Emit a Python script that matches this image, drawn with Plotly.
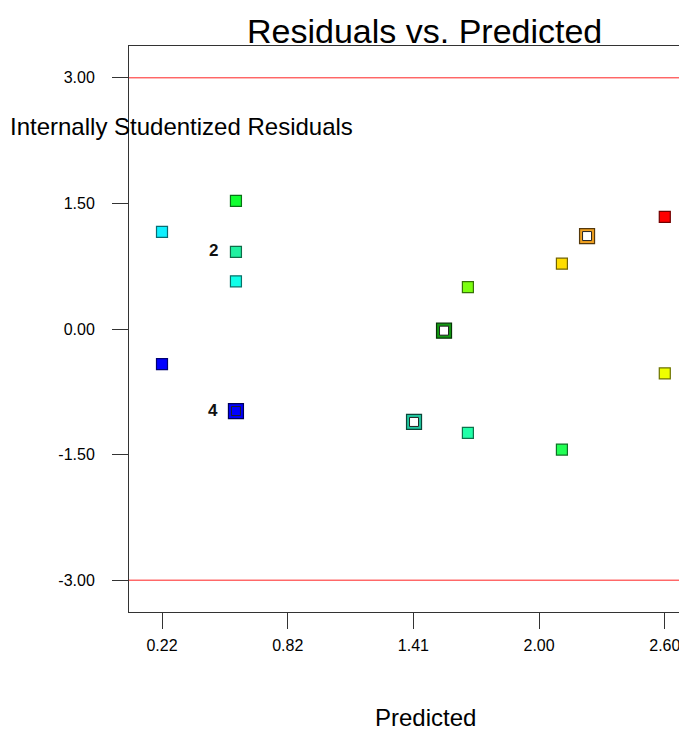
import plotly.graph_objects as go

# ---------------- data ----------------
predicted = [0.22, 0.22, 0.57, 0.57, 0.57, 0.57, 1.555, 1.413, 1.668, 1.668, 2.113, 2.113, 2.232, 2.60, 2.60]
residuals = [1.16, -0.42, 1.53, 0.92, 0.57, -0.98, -0.02, -1.11, 0.50, -1.24, 0.78, -1.44, 1.11, 1.34, -0.53]
point_kind = ["solid", "solid", "solid", "solid", "solid", "double", "hollow", "hollow",
              "solid", "solid", "solid", "solid", "hollow", "solid", "solid"]
point_labels = ["", "", "", "2", "", "4", "", "", "", "", "", "", "", "", ""]
limit_lines = [3.0, -3.0]

y_tick_vals = [-3.0, -1.5, 0.0, 1.5, 3.0]
y_tick_text = ["-3.00", "-1.50", "0.00", "1.50", "3.00"]
x_tick_vals = [0.22, 0.815, 1.41, 2.005, 2.60]
x_tick_text = ["0.22", "0.82", "1.41", "2.00", "2.60"]

# fill colours of each point (style)
point_colors = ["#10F0FF", "#0000FF", "#10FF30", "#20F0A0", "#10FFE8", "#0000FF", "#129A12", "#20C8A0",
                "#7CFF10", "#20FFA8", "#FFDD00", "#22FF55", "#F0A020", "#FF0000", "#EEFF00"]


def darker(hex_color, f=0.45):
    r, g, b = (int(hex_color[i:i + 2], 16) for i in (1, 3, 5))
    return "#%02x%02x%02x" % (int(r * f), int(g * f), int(b * f))


FONT = "Arial, Liberation Sans, sans-serif"

fig = go.Figure()

# solid points
idx = [i for i, k in enumerate(point_kind) if k == "solid"]
fig.add_scatter(
    x=[predicted[i] for i in idx], y=[residuals[i] for i in idx], mode="markers",
    marker=dict(symbol="square", size=11, color=[point_colors[i] for i in idx],
                line=dict(color=[darker(point_colors[i]) for i in idx], width=1.2)),
    showlegend=False, hoverinfo="x+y",
)

# hollow / double points: outer coloured square plus inner square
idx = [i for i, k in enumerate(point_kind) if k != "solid"]
fig.add_scatter(
    x=[predicted[i] for i in idx], y=[residuals[i] for i in idx], mode="markers",
    marker=dict(symbol="square", size=15, color=[point_colors[i] for i in idx],
                line=dict(color=[darker(point_colors[i], 0.35) for i in idx], width=1.2)),
    showlegend=False, hoverinfo="x+y",
)
fig.add_scatter(
    x=[predicted[i] for i in idx], y=[residuals[i] for i in idx], mode="markers",
    marker=dict(symbol="square", size=9,
                color=["#FFFFFF" if point_kind[i] == "hollow" else point_colors[i] for i in idx],
                line=dict(color="#222222", width=1)),
    showlegend=False, hoverinfo="skip",
)

# red limit lines
for v in limit_lines:
    fig.add_shape(type="line", xref="paper", x0=0, x1=1, yref="y", y0=v, y1=v,
                  line=dict(color="#FF2020", width=1))

# point labels
for x, y, t in zip(predicted, residuals, point_labels):
    if t:
        fig.add_annotation(x=x, y=y, text="<b>%s</b>" % t, showarrow=False,
                           xanchor="right", xshift=-16, yshift=1,
                           font=dict(family=FONT, size=17, color="#111111"))

# titles
fig.add_annotation(text="Residuals vs. Predicted", xref="paper", yref="paper", x=0.522, y=1.026,
                   xanchor="center", yanchor="middle", showarrow=False,
                   font=dict(family=FONT, size=34, color="#000000"))
fig.add_annotation(text="Internally Studentized Residuals", xref="paper", yref="paper", x=-0.2138, y=0.857,
                   xanchor="left", yanchor="middle", showarrow=False,
                   font=dict(family=FONT, size=24, color="#000000"))
fig.add_annotation(text="Predicted", xref="paper", yref="paper", x=0.5247, y=-0.187,
                   xanchor="center", yanchor="middle", showarrow=False,
                   font=dict(family=FONT, size=24, color="#000000"))

# page body adds an 8px margin, so the figure is shifted; plot runs off the right edge
fig.update_layout(
    width=687, height=726,
    margin=dict(l=121, r=0, t=38, b=122, autoexpand=False),
    paper_bgcolor="white", plot_bgcolor="white",
    font=dict(family=FONT, size=16, color="#000000"),
    xaxis=dict(
        range=[0.0638, 2.743], tickvals=x_tick_vals, ticktext=x_tick_text,
        ticks="outside", ticklen=16, tickcolor="#333333", ticklabelstandoff=3,
        showline=True, linecolor="#333333", linewidth=1, mirror=True,
        showgrid=False, zeroline=False, tickfont=dict(size=16),
    ),
    yaxis=dict(
        range=[-3.38, 3.38], tickvals=y_tick_vals, ticktext=y_tick_text,
        ticks="outside", ticklen=16, tickcolor="#333333", ticklabelstandoff=14,
        showline=True, linecolor="#333333", linewidth=1, mirror=False,
        showgrid=False, zeroline=False, tickfont=dict(size=16),
    ),
)

fig.write_html("out.html")
